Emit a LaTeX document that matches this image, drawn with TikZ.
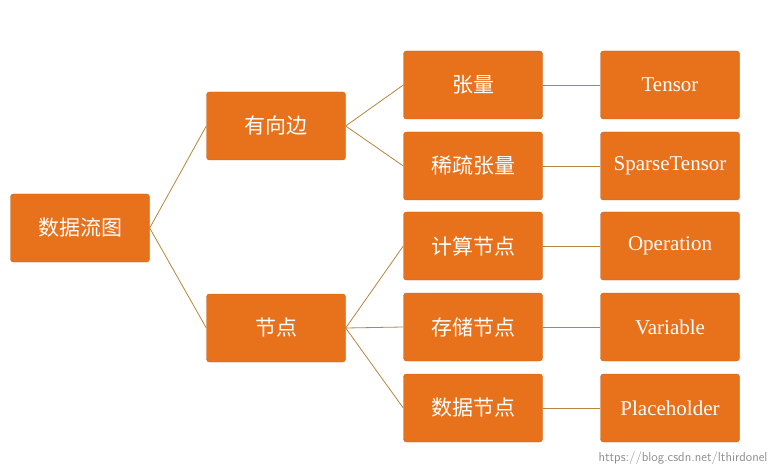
\documentclass[tikz,border=0pt]{standalone}
\usepackage{fontspec}
\setmainfont{Liberation Serif}
\newfontfamily\cjk{Noto Sans CJK SC}
\definecolor{boxorange}{HTML}{E8711C}
\definecolor{linkbrown}{HTML}{B8843E}
\begin{document}
\begin{tikzpicture}[x=1pt,y=-1pt,thin,
		tree box/.style={rectangle,rounded corners=3pt,fill=boxorange,draw=boxorange!85!black,
			minimum width=139pt,minimum height=68pt,text=white,font=\cjk\fontsize{21}{24}\selectfont},
		name box/.style={tree box,font=\fontsize{21}{24}\selectfont},
		link/.style={draw=linkbrown,line width=0.8pt}]
		\useasboundingbox (0,0) rectangle (773,470);
		
		\node[tree box] (root) at (80,228) {数据流图};
		\node[tree box] (edge) at (276,126) {有向边};
		\node[tree box] (vert) at (276,328) {节点};
		\node[tree box] (tens) at (473,85) {张量};
		\node[tree box] (spar) at (473,166) {稀疏张量};
		\node[tree box] (calc) at (473,246) {计算节点};
		\node[tree box] (stor) at (473,327) {存储节点};
		\node[tree box] (data) at (473,408) {数据节点};
		\node[name box] (tensor) at (670,85) {Tensor};
		\node[name box] (sparse) at (670,166) {SparseTensor};
		\node[name box] (oper) at (670,246) {Operation};
		\node[name box] (var) at (670,327) {Variable};
		\node[name box] (place) at (670,408) {Placeholder};
		\node[anchor=south east,text=black!45,font=\sffamily\fontsize{13}{15}\selectfont] (mark) at (771,468) {https://blog.csdn.net/lthirdonel};
		
		\path[link]
		(root.east) edge (edge.west)
		(root.east) edge (vert.west)
		(edge.east) edge (tens.west)
		(edge.east) edge (spar.west)
		(vert.east) edge (calc.west)
		(vert.east) edge (stor.west)
		(vert.east) edge (data.west)
		(tens) edge (tensor)
		(spar) edge (sparse)
		(calc) edge (oper)
		(stor) edge (var)
		(data) edge (place);
\end{tikzpicture}
\end{document}
